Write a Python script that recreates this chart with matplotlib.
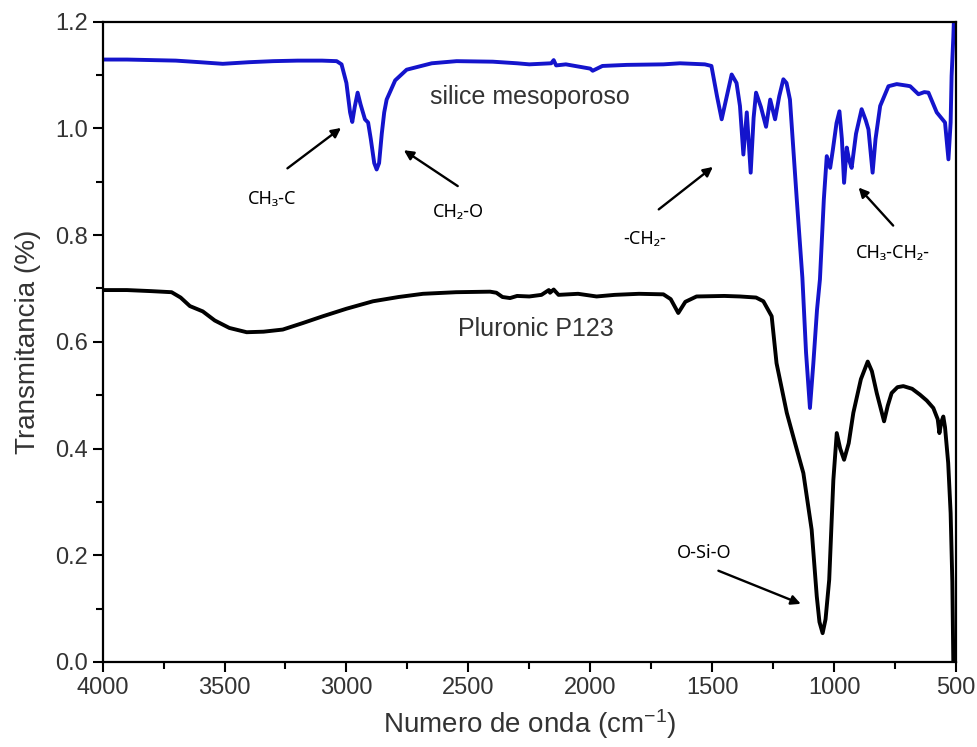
import numpy as np
import matplotlib.pyplot as plt

plt.rcParams['font.family'] = ['Liberation Sans', 'DejaVu Sans']
plt.rcParams['mathtext.default'] = 'regular'

# silice mesoporoso (numero de onda, transmitancia)
silice_wn = [4000, 3900, 3800, 3700, 3600, 3507, 3400, 3300, 3200, 3100, 3040, 3020,
             3000, 2985, 2976, 2966, 2954, 2942, 2924, 2911, 2900, 2886, 2876, 2866,
             2855, 2845, 2835, 2800, 2753, 2650, 2548, 2400, 2300, 2250, 2160, 2150,
             2140, 2100, 2000, 1990, 1950, 1850, 1700, 1632, 1530, 1503, 1480, 1461,
             1445, 1420, 1400, 1386, 1372, 1358, 1342, 1330, 1320, 1300, 1279, 1262,
             1242, 1225, 1208, 1195, 1181, 1153, 1130, 1115, 1099, 1085, 1070, 1058,
             1042, 1030, 1016, 1005, 990, 978, 968, 959, 948, 938, 928, 910, 887, 870,
             859, 842, 830, 811, 777, 743, 700, 688, 654, 630, 613, 579, 545, 531, 522,
             518, 511, 505, 500]
silice_t = [1.129, 1.129, 1.128, 1.127, 1.124, 1.121, 1.124, 1.126, 1.127, 1.127, 1.126, 1.120,
            1.085, 1.030, 1.012, 1.040, 1.067, 1.045, 1.017, 1.011, 0.980, 0.935, 0.923, 0.935,
            0.990, 1.030, 1.054, 1.090, 1.110, 1.122, 1.126, 1.125, 1.122, 1.120, 1.122, 1.128,
            1.118, 1.120, 1.112, 1.108, 1.117, 1.119, 1.120, 1.122, 1.120, 1.117, 1.060, 1.017,
            1.050, 1.101, 1.085, 1.042, 0.951, 1.030, 0.917, 1.020, 1.067, 1.040, 1.003, 1.054,
            1.017, 1.060, 1.092, 1.085, 1.054, 0.867, 0.720, 0.580, 0.476, 0.560, 0.660, 0.717,
            0.867, 0.948, 0.926, 0.960, 1.010, 1.032, 0.980, 0.898, 0.964, 0.940, 0.926, 0.990,
            1.036, 1.015, 0.998, 0.917, 0.980, 1.042, 1.079, 1.083, 1.080, 1.079, 1.064, 1.068,
            1.067, 1.030, 1.011, 0.942, 1.011, 1.098, 1.170, 1.250, 1.300]

# Pluronic P123
p123_wn = [4000, 3900, 3800, 3717, 3680, 3642, 3589, 3540, 3480, 3409, 3340, 3261, 3180,
           3096, 3000, 2891, 2786, 2686, 2550, 2411, 2385, 2360, 2329, 2300, 2250, 2200,
           2170, 2165, 2150, 2130, 2050, 1974, 1900, 1800, 1700, 1670, 1639, 1610, 1564,
           1450, 1386, 1320, 1290, 1256, 1236, 1194, 1160, 1126, 1092, 1071, 1060, 1047,
           1035, 1020, 1003, 989, 975, 959, 940, 921, 890, 862, 845, 825, 795, 780, 764,
           740, 716, 680, 648, 620, 593, 575, 568, 560, 552, 545, 532, 522, 515, 511, 505]
p123_t = [0.697, 0.697, 0.695, 0.693, 0.683, 0.667, 0.657, 0.640, 0.626, 0.618, 0.619, 0.623, 0.635,
          0.648, 0.662, 0.676, 0.684, 0.690, 0.693, 0.694, 0.692, 0.684, 0.682, 0.686, 0.685, 0.688,
          0.697, 0.692, 0.698, 0.688, 0.690, 0.685, 0.688, 0.690, 0.689, 0.680, 0.654, 0.675, 0.685,
          0.686, 0.685, 0.683, 0.676, 0.648, 0.560, 0.467, 0.410, 0.354, 0.248, 0.123, 0.075, 0.054,
          0.080, 0.154, 0.341, 0.429, 0.400, 0.379, 0.410, 0.467, 0.530, 0.563, 0.545, 0.504, 0.451,
          0.480, 0.504, 0.515, 0.517, 0.512, 0.501, 0.490, 0.476, 0.455, 0.429, 0.450, 0.460, 0.440,
          0.373, 0.279, 0.150, 0.000, -0.050]

# etiquetas de grupos: (texto, posicion texto, punta flecha, cola flecha)
grupos = [
    ('CH₃-C', (3306, 0.867), (3013, 1.004), (3251, 0.922)),
    ('CH₂-O', (2541, 0.843), (2774, 0.962), (2534, 0.889)),
    ('-CH₂-', (1775, 0.793), (1488, 0.931), (1728, 0.845)),
    ('CH₃-CH₂-', (760, 0.766), (907, 0.893), (750, 0.814)),
    ('O-Si-O', (1533, 0.204), (1126, 0.107), (1485, 0.173)),
]

fig = plt.figure(figsize=(9.77, 7.47), dpi=100)
ax = fig.add_axes([0.105, 0.1138, 0.8735, 0.8572])

ax.plot(silice_wn, silice_t, color='#1414cc', lw=2.8)
ax.plot(p123_wn, p123_t, color='black', lw=2.8)

ax.text(2657, 1.045, 'silice mesoporoso', fontsize=18, color='#333333', va='baseline')
ax.text(2222, 0.610, 'Pluronic P123', fontsize=18, color='#333333', ha='center', va='baseline')

for texto, pos, punta, cola in grupos:
    ax.text(pos[0], pos[1], texto, fontsize=13, ha='center', va='center',
            family=['Noto Sans', 'DejaVu Sans'])
    ax.annotate('', xy=punta, xytext=cola,
                arrowprops=dict(arrowstyle='-|>', color='black', lw=1.7, mutation_scale=14))

ax.set_xlim(4000, 500)
ax.set_ylim(0, 1.2)
ax.set_xticks(np.arange(4000, 499, -500))
ax.set_xticks(np.arange(3750, 500, -500), minor=True)
ax.set_yticks(np.arange(0, 1.21, 0.2))
ax.set_yticks(np.arange(0.1, 1.2, 0.2), minor=True)
ax.yaxis.set_major_formatter(plt.FormatStrFormatter('%.1f'))

ax.tick_params(which='major', length=7, width=1.5, labelsize=17, labelcolor='#333333')
ax.tick_params(which='minor', length=5, width=1.5)
for s in ax.spines.values():
    s.set_linewidth(1.6)

ax.set_xlabel('Numero de onda (cm$^{-1}$)', fontsize=20, color='#333333', labelpad=6)
ax.set_ylabel('Transmitancia (%)', fontsize=20, color='#333333', labelpad=10)

fig.savefig('out.png', dpi=100)
